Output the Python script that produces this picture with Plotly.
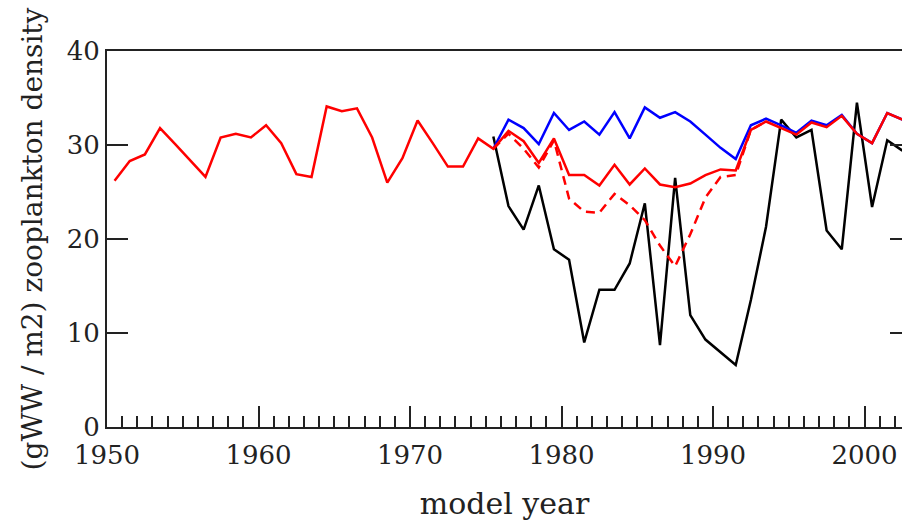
import plotly.graph_objects as go

years = list(range(1950, 2003))

red_solid = [26.2, 28.3, 29.0, 31.8, 30.1, 28.4, 26.6, 30.8, 31.2, 30.8,
             32.1, 30.2, 26.9, 26.6, 34.1, 33.6, 33.9, 30.8, 26.0, 28.6,
             32.6, 30.2, 27.7, 27.7, 30.7, 29.6, 31.5, 30.4, 28.1, 30.7,
             26.8, 26.8, 25.7, 27.9, 25.8, 27.5, 25.8, 25.5, 25.9, 26.8,
             27.4, 27.3, 31.6, 32.5, 31.8, 31.1, 32.4, 31.9, 33.1, 31.2,
             30.2, 33.4, 32.7]

scen_years = list(range(1975, 2003))
blue = [29.6, 32.7, 31.8, 30.1, 33.4, 31.6, 32.5, 31.1, 33.5, 30.7,
        34.0, 32.9, 33.5, 32.5, 31.1, 29.7, 28.5, 32.1, 32.8, 32.1,
        31.3, 32.6, 32.1, 33.2, 31.2, 30.2, 33.4, 32.7]
black = [30.9, 23.5, 21.0, 25.7, 18.9, 17.8, 9.0, 14.6, 14.6, 17.4,
         23.8, 8.7, 26.5, 11.9, 9.3, 7.9, 6.6, 13.5, 21.3, 32.7,
         30.8, 31.6, 20.9, 18.9, 34.5, 23.4, 30.5, 29.4]

dash_years = list(range(1975, 1994))
red_dashed = [29.6, 31.2, 29.6, 27.6, 30.5, 24.3, 22.9, 22.8, 24.8, 23.6,
              22.0, 19.3, 17.1, 20.5, 24.4, 26.6, 26.8, 31.6, 32.5]

mid = lambda ys: [y + 0.5 for y in ys]

fig = go.Figure()
fig.add_trace(go.Scatter(x=mid(scen_years), y=black, mode="lines",
                         line=dict(color="#000000", width=2.5)))
fig.add_trace(go.Scatter(x=mid(scen_years), y=blue, mode="lines",
                         line=dict(color="#0000ff", width=2.5)))
fig.add_trace(go.Scatter(x=mid(dash_years), y=red_dashed, mode="lines",
                         line=dict(color="#ff0000", width=2.5, dash="9px,6px")))
fig.add_trace(go.Scatter(x=mid(years), y=red_solid, mode="lines",
                         line=dict(color="#ff0000", width=2.5)))
fig.add_trace(go.Scatter(x=[], y=[], yaxis="y2", showlegend=False))

font = "DejaVu Serif"
ink = "#222222"
fig.update_layout(
    width=902, height=522,
    margin=dict(l=107, r=0, t=51, b=95),
    paper_bgcolor="white", plot_bgcolor="white",
    showlegend=False,
    font=dict(family=font, color=ink, size=27),
    xaxis=dict(
        range=[1950, 1950 + 795 / 15.15],
        tickmode="array", tickvals=[1950, 1960, 1970, 1980, 1990, 2000],
        ticks="inside", ticklen=21, tickwidth=1.5, tickcolor=ink,
        minor=dict(dtick=1, tick0=1950, ticks="inside", ticklen=11,
                   tickwidth=1.5, tickcolor=ink, showgrid=False),
        showline=True, linewidth=2, linecolor=ink, mirror=True,
        showgrid=False, zeroline=False, ticklabelstandoff=4,
        tickfont=dict(family=font, size=26, color=ink),
        title=dict(text="model year", standoff=24,
                   font=dict(family=font, size=30, color=ink)),
    ),
    yaxis=dict(
        range=[0, 40], tickvals=[0, 10, 20, 30, 40],
        ticks="inside", ticklen=21, tickwidth=1.5, tickcolor=ink,
        showline=True, linewidth=2, linecolor=ink, mirror=False,
        showgrid=False, zeroline=False,
        tickfont=dict(family=font, size=26, color=ink),
        title=dict(text="(gWW / m2) zooplankton density", standoff=16,
                   font=dict(family=font, size=28, color=ink)),
    ),
    yaxis2=dict(
        range=[0, 40], overlaying="y", side="right",
        tickvals=[10, 20, 30], ticks="inside", ticklen=12, tickwidth=1.5,
        tickcolor=ink, showticklabels=False, showline=False,
        showgrid=False, zeroline=False,
    ),
)

fig.write_html("out.html")
